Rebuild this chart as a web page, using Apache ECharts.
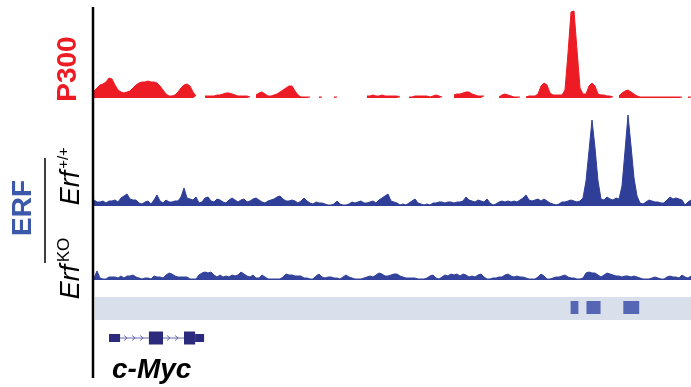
<!DOCTYPE html>
<html>
<head>
<meta charset="utf-8">
<script src="https://cdn.jsdelivr.net/npm/echarts@6/dist/echarts.min.js"></script>
<style>
  html, body { margin: 0; padding: 0; background: #fff; }
  #chart { width: 691px; height: 387px; }
</style>
</head>
<body>
<div id="chart"></div>
<script>
// signal per genomic bin (200 equal bins over the locus), null = no coverage
const p300 = [
  7, 10, 13, 14, 16, 20, 19, 13, 8, 6,
  5, 6, 7, 10, 13, 15, 16, 16, 17, 16,
  16, 15, 12, 8, 4, 2, 2, 3, 6, 10,
  13, 14, 12, 6, 2, null, null, 2, 2, 2,
  2, 3, 3, 4, 5, 5, 4, 3, 2, 2,
  2, 2, 1, null, 3, 5, 6, 4, 2, 2,
  3, 4, 6, 8, 10, 12, 12, 7, 3, 1,
  1, 1, 1, null, null, 1, 1, null, null, null,
  1, 1, null, null, null, null, null, null, null, null,
  null, 2, 2, 3, 2, 2, 3, 2, 2, 2,
  2, 2, 1, null, null, 1, 1, 2, 2, 2,
  2, 2, 1, 2, 3, 2, 1, null, null, null,
  3, 4, 4, 5, 6, 6, 4, 3, 2, 2,
  2, null, null, null, null, 1, 3, 4, 3, 2,
  1, 1, 1, null, 1, 2, 2, 2, 4, 12,
  15, 13, 5, 3, 3, 3, 3, 8, 45, 86,
  87, 48, 10, 4, 4, 12, 15, 12, 4, 3,
  3, 2, 2, 1, null, 2, 5, 7, 8, 6,
  4, 2, 1, 1, 1, 1, 1, 1, 1, 1,
  1, 1, 1, 1, 1, 1, 1, null, 1, 1
];
const erfWT = [
  6, 4, 4, 5, 3, 5, 5, 6, 4, 8,
  10, 12, 7, 6, 6, 3, 2, 4, 5, 2,
  6, 11, 5, 3, 6, 4, 4, 5, 5, 9,
  18, 8, 7, 6, 9, 3, 4, 8, 9, 5,
  4, 7, 6, 4, 3, 6, 8, 6, 4, 6,
  7, 4, 5, 7, 8, 6, 4, 3, 5, 6,
  7, 9, 10, 7, 5, 5, 6, 5, 3, 5,
  8, 5, 3, 2, 4, 3, 3, 2, 1, 1,
  2, 5, 2, 1, 1, 2, 4, 3, 4, 5,
  3, 3, 4, 5, 3, 6, 8, 10, 12, 5,
  4, 3, 1, 2, 1, 3, 5, 7, 3, 2,
  1, 2, 1, 3, 3, 4, 4, 3, 4, 4,
  3, 4, 4, 5, 9, 6, 5, 4, 6, 5,
  4, 7, 3, 1, 2, 4, 5, 4, 5, 4,
  5, 4, 6, 8, 11, 6, 5, 6, 7, 5,
  7, 5, 3, 2, 1, 2, 4, 4, 5, 6,
  5, 4, 5, 8, 25, 55, 86, 58, 25, 7,
  6, 9, 7, 6, 8, 7, 20, 55, 91, 60,
  28, 10, 3, 2, 4, 6, 5, 4, 4, 3,
  3, 6, 9, 7, 8, 7, 6, 1, 4, 6
];
const erfKO = [
  2, 9, 2, 1, 1, 3, 3, 3, 2, 4,
  2, 4, 4, 5, 3, 2, 1, 2, 2, 1,
  4, 3, 3, 2, 5, 7, 6, 4, 3, 3,
  3, 3, 1, 1, 1, 5, 7, 8, 7, 8,
  5, 3, 5, 3, 4, 3, 5, 4, 5, 8,
  6, 4, 3, 5, 2, 2, 5, 3, 1, 1,
  1, 1, 1, 3, 6, 5, 5, 4, 4, 4,
  2, 2, 1, 1, 4, 6, 3, 2, 3, 3,
  2, 2, 1, 3, 5, 3, 2, 1, 1, 1,
  2, 3, 4, 3, 5, 7, 6, 4, 4, 5,
  6, 6, 4, 3, 2, 2, 2, 2, 1, 1,
  1, 2, 4, 5, 2, 1, 3, 5, 4, 6,
  5, 6, 4, 6, 5, 3, 4, 3, 5, 6,
  3, 1, 1, 2, 2, 3, 3, 5, 6, 4,
  3, 4, 3, 3, 2, 1, 1, 1, 3, 6,
  4, 1, 1, 2, 3, 3, 4, 5, 3, 2,
  2, 1, 1, 2, 7, 8, 7, 7, 5, 3,
  5, 7, 6, 5, 4, 4, 3, 4, 4, 3,
  4, 3, 2, 1, 1, 1, 2, 3, 2, 1,
  1, 3, 4, 3, 3, 2, 5, 3, 2, 4
];

// called peak regions and c-Myc gene model, in bin units
const peakRegions = [[158.8, 161.4], [164.1, 168.8], [176.4, 181.7]];
const exons = [[5.0, 8.7, 'utr'], [18.3, 23.0, 'cds'], [30.0, 33.7, 'cds'], [33.7, 36.7, 'utr']];
const introns = [[8.7, 18.3], [23.0, 30.0]];

const RED = '#ed1c24';
const BLUE = '#2f3f98';
const FONT = '"Liberation Sans", Arial, Helvetica, sans-serif';

const toXY = arr => arr.map((v, i) => [i, v]);

const chart = echarts.init(document.getElementById('chart'));

const xAx = idx => ({ type: 'value', gridIndex: idx, min: 0, max: 199, show: false });
const yAx = (idx, max) => ({ type: 'value', gridIndex: idx, min: 0, max: max, show: false });

function trackSeries(name, data, idx, color) {
  return {
    name: name,
    type: 'line',
    xAxisIndex: idx,
    yAxisIndex: idx,
    data: toXY(data),
    symbol: 'none',
    connectNulls: false,
    lineStyle: { color: color, width: 1 },
    areaStyle: { color: color, opacity: 1 },
    silent: true
  };
}

const option = {
  animation: false,
  backgroundColor: '#fff',
  grid: [
    { left: 94, right: 0, top: 8, height: 90 },
    { left: 94, right: 0, top: 111, height: 95 },
    { left: 94, right: 0, top: 250, height: 30 },
    { left: 95, right: 0, top: 297, height: 23, show: true, backgroundColor: '#d9e0ec', borderWidth: 0 },
    { left: 94, right: 0, top: 331, height: 14 }
  ],
  xAxis: [xAx(0), xAx(1), xAx(2), xAx(3), xAx(4)],
  yAxis: [yAx(0, 90), yAx(1, 95), yAx(2, 30), yAx(3, 1), yAx(4, 1)],
  series: [
    trackSeries('P300', p300, 0, RED),
    trackSeries('Erf+/+', erfWT, 1, BLUE),
    trackSeries('ErfKO', erfKO, 2, '#34449c'),
    {
      name: 'peaks',
      type: 'custom',
      xAxisIndex: 3,
      yAxisIndex: 3,
      data: peakRegions,
      renderItem: (params, api) => {
        const a = api.coord([api.value(0), 0]);
        const b = api.coord([api.value(1), 0]);
        return {
          type: 'rect',
          shape: { x: a[0], y: params.coordSys.y + 4, width: b[0] - a[0], height: 13 },
          style: { fill: '#5566b5' }
        };
      }
    },
    {
      name: 'introns',
      type: 'custom',
      xAxisIndex: 4,
      yAxisIndex: 4,
      data: introns,
      renderItem: (params, api) => {
        const a = api.coord([api.value(0), 0]);
        const b = api.coord([api.value(1), 0]);
        const y = params.coordSys.y + params.coordSys.height / 2;
        const st = { stroke: '#6a6ab0', lineWidth: 1, fill: null };
        const children = [{ type: 'line', shape: { x1: a[0], y1: y, x2: b[0], y2: y }, style: st }];
        for (let x = a[0] + 6; x < b[0] - 3; x += 8) {
          children.push({ type: 'polyline', shape: { points: [[x - 2, y - 2.5], [x + 1, y], [x - 2, y + 2.5]] }, style: st });
        }
        return { type: 'group', children: children };
      }
    },
    {
      name: 'exons',
      type: 'custom',
      xAxisIndex: 4,
      yAxisIndex: 4,
      data: exons.map(e => [e[0], e[1], e[2] === 'cds' ? 13 : 8]),
      renderItem: (params, api) => {
        const a = api.coord([api.value(0), 0]);
        const b = api.coord([api.value(1), 0]);
        const h = api.value(2);
        const cy = params.coordSys.y + params.coordSys.height / 2;
        return {
          type: 'rect',
          shape: { x: a[0], y: cy - h / 2, width: b[0] - a[0], height: h },
          style: { fill: '#2c2a7c' }
        };
      }
    }
  ],
  graphic: [
    { type: 'line', shape: { x1: 93, y1: 7, x2: 93, y2: 378 }, style: { stroke: '#000', lineWidth: 2.5 }, z: 10 },
    { type: 'line', shape: { x1: 45, y1: 158, x2: 45, y2: 263 }, style: { stroke: '#000', lineWidth: 1.5 } },
    { type: 'text', x: 68, y: 69, rotation: Math.PI / 2,
      style: { text: 'P300', fill: RED, font: 'bold 28px ' + FONT, align: 'center', verticalAlign: 'middle' } },
    { type: 'text', x: 23, y: 208, rotation: Math.PI / 2,
      style: { text: 'ERF', fill: '#3b58ab', font: 'bold 28px ' + FONT, align: 'center', verticalAlign: 'middle' } },
    { type: 'text', x: 71, y: 188, rotation: Math.PI / 2,
      style: { text: 'Erf', fill: '#000', font: 'italic 27px ' + FONT, align: 'center', verticalAlign: 'middle' } },
    { type: 'text', x: 64, y: 158, rotation: Math.PI / 2,
      style: { text: '+/+', fill: '#000', font: '15px ' + FONT, align: 'center', verticalAlign: 'middle' } },
    { type: 'text', x: 71, y: 282, rotation: Math.PI / 2,
      style: { text: 'Erf', fill: '#000', font: 'italic 27px ' + FONT, align: 'center', verticalAlign: 'middle' } },
    { type: 'text', x: 64, y: 250, rotation: Math.PI / 2,
      style: { text: 'KO', fill: '#000', font: '17px ' + FONT, align: 'center', verticalAlign: 'middle' } },
    { type: 'text', x: 112, y: 370,
      style: { text: 'c-Myc', fill: '#000', font: 'italic bold 28px ' + FONT, align: 'left', verticalAlign: 'middle' } }
  ]
};

chart.setOption(option);
</script>
</body>
</html>
